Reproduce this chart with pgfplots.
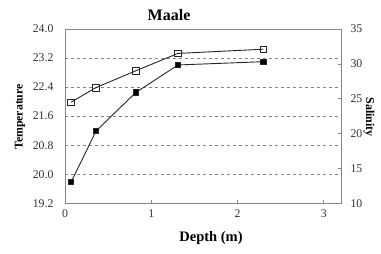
\documentclass[border=0pt]{standalone}
\usepackage{fontspec}
\setmainfont{Liberation Serif}
\usepackage{pgfplots}
\pgfplotsset{compat=1.18}
\definecolor{axgray}{HTML}{858585}
\definecolor{txt}{HTML}{303030}
\begin{document}
\begin{tikzpicture}[x=1pt,y=1pt]
\useasboundingbox (-65,-50.7) rectangle (316,203.3);
\begin{axis}[
  at={(0,0)}, anchor=south west,
  scale only axis, width=276pt, height=174.3pt,
  xmin=0, xmax=3.2, ymin=19.2, ymax=24.0,
  xtick={0,1,2,3}, ytick={19.2,20.0,20.8,21.6,22.4,23.2,24.0},
  xtick pos=bottom, ytick pos=left, tick align=inside,
  major tick length=3pt,
  tick style={axgray, line width=0.6pt},
  axis line style={axgray, line width=0.8pt},
  ymajorgrids, grid style={dashed, axgray, line width=0.6pt},
  /pgf/number format/assume math mode=true,
  yticklabel style={/pgf/number format/fixed, /pgf/number format/fixed zerofill, /pgf/number format/precision=1, font=\fontsize{11.8}{12}\selectfont, text=txt, xshift=-8pt},
  xticklabel style={font=\fontsize{11.8}{12}\selectfont, text=txt, yshift=-3pt},
  title={}, 
  ylabel={\textbf{Temperature}}, ylabel style={font=\fontsize{11.8}{12}\selectfont, at={(rel axis cs:-0.163,0.495)}, anchor=center, rotate=0},
  xlabel={\textbf{Depth (m)}}, xlabel style={font=\fontsize{14.5}{15}\selectfont, at={(rel axis cs:0.529,-0.199)}, anchor=center},
  clip=false,
]
\addplot[black!85, line width=0.9pt, mark=square*, mark size=2.7pt, mark options={solid, fill=black}]
  coordinates {(0.07,19.78) (0.36,21.19) (0.82,22.25) (1.31,23.01) (2.30,23.10)};
\node[font=\bfseries\fontsize{16}{17}\selectfont, anchor=center] at (rel axis cs:0.377,1.08) {Maale};
\end{axis}
\begin{axis}[
  at={(0,0)}, anchor=south west,
  scale only axis, width=276pt, height=174.3pt,
  xmin=0, xmax=3.2, ymin=10, ymax=35,
  axis x line=none, axis y line*=right,
  ytick={10,15,20,25,30,35}, tick align=inside,
  major tick length=3pt,
  tick style={axgray, line width=0.6pt},
  axis line style={axgray, line width=0.8pt, -},
  /pgf/number format/assume math mode=true,
  yticklabel style={font=\fontsize{11.8}{12}\selectfont, text=txt, xshift=6pt},
  ylabel={\textbf{Salinity}}, ylabel style={font=\fontsize{12}{13}\selectfont, at={(rel axis cs:1.101,0.495)}, anchor=center, rotate=180},
  clip=false,
]
\addplot[black!85, line width=0.9pt, mark=square, mark size=3.3pt, mark options={solid, fill=white, line width=0.7pt}]
  coordinates {(0.07,24.5) (0.36,26.6) (0.82,29.0) (1.31,31.5) (2.30,32.1)};
\end{axis}
\end{tikzpicture}
\end{document}
